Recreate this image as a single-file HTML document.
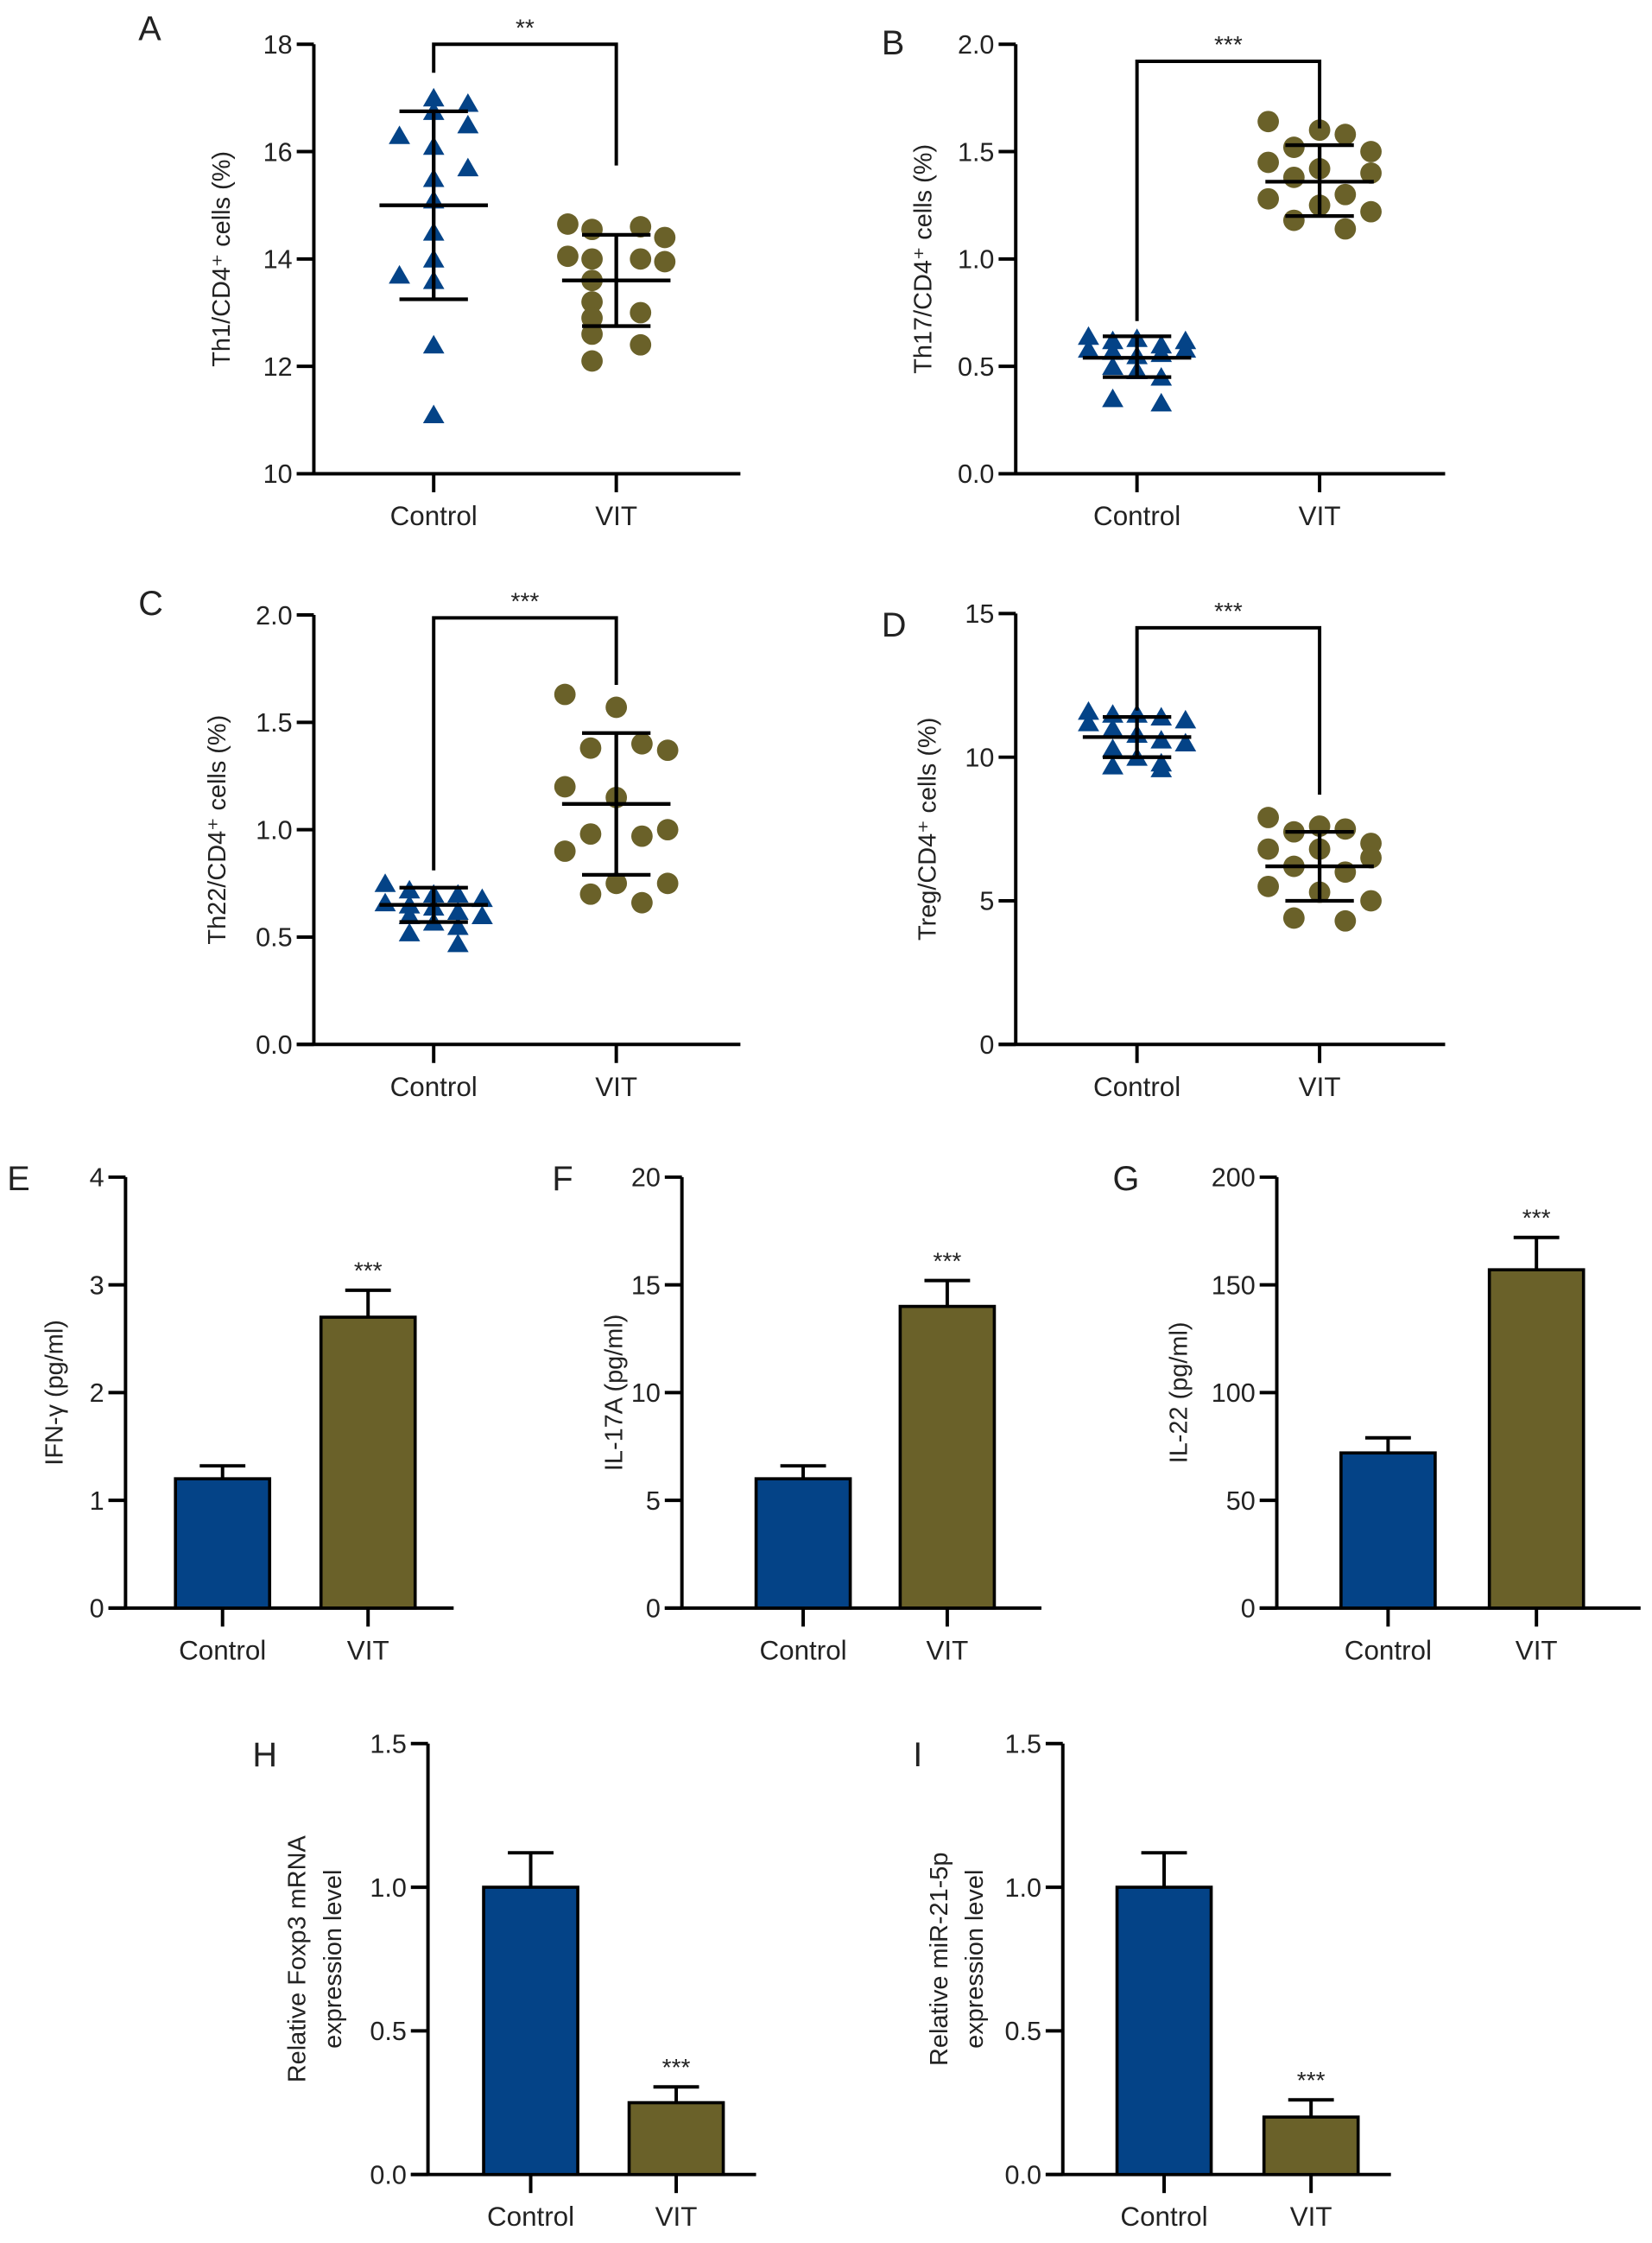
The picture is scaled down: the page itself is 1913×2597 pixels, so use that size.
<!DOCTYPE html>
<html><head><meta charset="utf-8">
<style>
html,body{margin:0;padding:0;background:#fff;}
svg{display:block;}
text{font-family:"Liberation Sans",sans-serif;fill:#222;}
</style></head>
<body>
<svg id="fig" width="1913" height="2597" viewBox="0 0 1158 1572" preserveAspectRatio="none" xmlns="http://www.w3.org/2000/svg"></svg>
<script>
// ---- Data ----
const categories = ["Control","VIT"];
// Scatter panels
const ctrlA = [17.0,16.9,16.75,16.3,16.5,16.1,15.7,15.5,15.1,14.5,14.0,13.7,13.6,12.4,11.1];
const vitA  = [14.65,14.55,14.6,14.4,14.05,14.0,13.95,14.0,13.6,13.2,13.0,12.9,12.6,12.4,12.1];
const statsA = [15.0,16.75,13.25, 13.6,14.45,12.75];
const ctrlB = [0.64,0.62,0.63,0.6,0.62,0.58,0.57,0.55,0.56,0.58,0.5,0.48,0.45,0.35,0.33];
const vitB  = [1.64,1.6,1.58,1.52,1.5,1.45,1.42,1.4,1.38,1.3,1.28,1.25,1.22,1.18,1.14];
const statsB = [0.54,0.64,0.45, 1.36,1.53,1.2];
const ctrlC = [0.75,0.72,0.7,0.7,0.68,0.66,0.65,0.64,0.62,0.6,0.6,0.57,0.55,0.52,0.47];
const vitC  = [1.63,1.57,1.4,1.38,1.37,1.2,1.15,1.0,0.98,0.97,0.9,0.75,0.75,0.7,0.66];
const statsC = [0.65,0.73,0.57, 1.12,1.45,0.79];
const ctrlD = [11.6,11.5,11.5,11.4,11.3,11.2,11.0,10.8,10.6,10.5,10.3,10.0,9.8,9.7,9.6];
const vitD  = [7.9,7.6,7.5,7.4,7.0,6.8,6.8,6.5,6.2,6.0,5.5,5.3,5.0,4.4,4.3];
const statsD = [10.7,11.4,10.0, 6.2,7.4,5.0];
// Bar panels: [control, vit], errors upper
const barE = [1.2,2.7];   const errE = [1.32,2.95];
const barF = [6.0,14.0];  const errF = [6.6,15.2];
const barG = [72,157];    const errG = [79,172];
const barH = [1.0,0.25];  const errH = [1.12,0.305];
const barI = [1.0,0.2];   const errI = [1.12,0.26];
// tick labels
const ticksA = [10,12,14,16,18];
const ticksB = ["0.0","0.5","1.0","1.5","2.0"];
const ticksC = ["0.0","0.5","1.0","1.5","2.0"];
const ticksD = [0,5,10,15];
const ticksE = [0,1,2,3,4];
const ticksF = [0,5,10,15,20];
const ticksG = [0,50,100,150,200];
const ticksH = ["0.0","0.5","1.0","1.5"];
const ticksI = ["0.0","0.5","1.0","1.5"];

// ---- layout (jitter patterns, not data) ----
const jitCtrlA=[0,1,0,-1,1,0,1,0,0,0,0,-1,0,0,0];
const jitVitA=[-2,-1,1,2,-2,-1,2,1,-1,-1,1,-1,-1,1,-1];
const jitCtrl=[-2,-1,0,1,2,-2,-1,0,1,2,-1,0,1,-1,1];
const jitVit=[-2,0,1,-1,2,-2,0,2,-1,1,-2,0,2,-1,1];

const BLUE="#044387", OLIVE="#6a6129";
const NS="http://www.w3.org/2000/svg";
const svg=document.getElementById('fig');
function el(tag,attrs,parent){const e=document.createElementNS(NS,tag);for(const k in attrs)e.setAttribute(k,attrs[k]);(parent||svg).appendChild(e);return e;}
function txt(s,attrs,parent){const t=el('text',attrs,parent);t.textContent=s;return t;}

function axes(g,p,ticks){
  const {x0,yTop,yBot,xEnd,min,max,cx,title,letter,lx,ly}=p;
  const y=v=>yBot-(v-min)/(max-min)*(yBot-yTop);
  const yax=el('line',{x1:x0,y1:yTop,x2:x0,y2:yBot,stroke:'#000','stroke-width':2.4},g);
  
  const xax=el('line',{x1:x0-12,y1:yBot,x2:xEnd,y2:yBot,stroke:'#000','stroke-width':2.4},g);
  
  ticks.forEach((t,i)=>{const v=min+i*(max-min)/(ticks.length-1);const yy=y(v);
    el('line',{x1:x0-12,y1:yy,x2:x0,y2:yy,stroke:'#000','stroke-width':2.4},g);
    const tl=txt(String(t),{x:x0-15,y:yy+6.5,'font-size':18.5,'text-anchor':'end'},g);
    });
  categories.forEach((c,i)=>{el('line',{x1:cx[i],y1:yBot,x2:cx[i],y2:yBot+13,stroke:'#000','stroke-width':2.4},g);
    const cl=txt(c,{x:cx[i],y:yBot+36,'font-size':19,'text-anchor':'middle'},g);
    });
  const midY=(yTop+yBot)/2;
  const tg=el('g',{transform:`translate(${p.tx},${midY}) rotate(-90)`},g);
  title.forEach((line,i)=>{const tt=txt(line,{x:0,y:i*25,'font-size':17.5,'text-anchor':'middle'},tg);
    });
  const L=txt(letter,{x:lx,y:ly,'font-size':24},g);
  
  return y;
}

function scatter(p,ticks,ctrl,vit,stats,jc,jv,sig){
  const g=el('g',{});
  const y=axes(g,p,ticks);
  ctrl.forEach((v,i)=>{const x=p.cx[0]+jc[i]*p.jc, yy=y(v);
    const m=el('polygon',{points:`${x},${yy-7} ${x-7.5},${yy+6} ${x+7.5},${yy+6}`,fill:BLUE},g);
    });
  vit.forEach((v,i)=>{const m=el('circle',{cx:p.cx[1]+jv[i]*p.jv,cy:y(v),r:7.5,fill:OLIVE},g);
    });
  [0,1].forEach(k=>{const cx=p.cx[k],m=stats[k*3],hi=stats[k*3+1],lo=stats[k*3+2];
    el('line',{x1:cx-38,y1:y(m),x2:cx+38,y2:y(m),stroke:'#000','stroke-width':2.6},g);
    el('line',{x1:cx,y1:y(hi),x2:cx,y2:y(lo),stroke:'#000','stroke-width':2.6},g);
    el('line',{x1:cx-24,y1:y(hi),x2:cx+24,y2:y(hi),stroke:'#000','stroke-width':2.6},g);
    el('line',{x1:cx-24,y1:y(lo),x2:cx+24,y2:y(lo),stroke:'#000','stroke-width':2.6},g);});
  const by=p.by;
  const br=el('polyline',{points:`${p.cx[0]},${p.b1} ${p.cx[0]},${by} ${p.cx[1]},${by} ${p.cx[1]},${p.b2}`,fill:'none',stroke:'#000','stroke-width':2.4},g);
  
  const s=txt(sig,{x:(p.cx[0]+p.cx[1])/2,y:by-6,'font-size':17,'text-anchor':'middle'},g);
  
}

function bars(p,ticks,vals,errs){
  const g=el('g',{});
  const y=axes(g,p,ticks);
  vals.forEach((v,i)=>{const cx=p.cx[i],w=p.bw;
    el('line',{x1:cx,y1:y(v),x2:cx,y2:y(errs[i]),stroke:'#000','stroke-width':2.4},g);
    el('line',{x1:cx-16,y1:y(errs[i]),x2:cx+16,y2:y(errs[i]),stroke:'#000','stroke-width':2.4},g);
    const b=el('rect',{x:cx-w/2,y:y(v),width:w,height:y(p.min)-y(v),fill:i?OLIVE:BLUE,stroke:'#000','stroke-width':2.2},g);
    });
  const s=txt('***',{x:p.cx[1],y:y(errs[1])-8,'font-size':17,'text-anchor':'middle'},g);
  
}

scatter({x0:220,yTop:31,yBot:332,xEnd:519,min:10,max:18,cx:[304,432],title:['Th1/CD4⁺ cells (%)'],tx:161,letter:'A',lx:97,ly:28,jc:24,jv:17,by:31,b1:51,b2:116},ticksA,ctrlA,vitA,statsA,jitCtrlA,jitVitA,'**');
scatter({x0:712,yTop:31,yBot:332,xEnd:1013,min:0,max:2,cx:[797,925],title:['Th17/CD4⁺ cells (%)'],tx:653,letter:'B',lx:618,ly:38,jc:17,jv:18,by:43,b1:225,b2:90},ticksB,ctrlB,vitB,statsB,jitCtrl,jitVit,'***');
scatter({x0:220,yTop:431,yBot:732,xEnd:519,min:0,max:2,cx:[304,432],title:['Th22/CD4⁺ cells (%)'],tx:158,letter:'C',lx:97,ly:431,jc:17,jv:18,by:433,b1:610,b2:480},ticksC,ctrlC,vitC,statsC,jitCtrl,jitVit,'***');
scatter({x0:712,yTop:430,yBot:732,xEnd:1013,min:0,max:15,cx:[797,925],title:['Treg/CD4⁺ cells (%)'],tx:656,letter:'D',lx:618,ly:446,jc:17,jv:18,by:440,b1:498,b2:557},ticksD,ctrlD,vitD,statsD,jitCtrl,jitVit,'***');

bars({x0:88,yTop:825,yBot:1127,xEnd:318,min:0,max:4,cx:[156,258],bw:66,title:['IFN-γ (pg/ml)'],tx:44,letter:'E',lx:5,ly:834},ticksE,barE,errE);
bars({x0:478,yTop:825,yBot:1127,xEnd:730,min:0,max:20,cx:[563,664],bw:66,title:['IL-17A (pg/ml)'],tx:436,letter:'F',lx:387,ly:834},ticksF,barF,errF);
bars({x0:895,yTop:825,yBot:1127,xEnd:1150,min:0,max:200,cx:[973,1077],bw:66,title:['IL-22 (pg/ml)'],tx:832,letter:'G',lx:780,ly:834},ticksG,barG,errG);
bars({x0:300,yTop:1222,yBot:1524,xEnd:530,min:0,max:1.5,cx:[372,474],bw:66,title:['Relative Foxp3 mRNA','expression level'],tx:214,letter:'H',lx:177,ly:1238},ticksH,barH,errH);
bars({x0:745,yTop:1222,yBot:1524,xEnd:975,min:0,max:1.5,cx:[816,919],bw:66,title:['Relative miR-21-5p','expression level'],tx:664,letter:'I',lx:640,ly:1238},ticksI,barI,errI);
</script>
</body></html>
